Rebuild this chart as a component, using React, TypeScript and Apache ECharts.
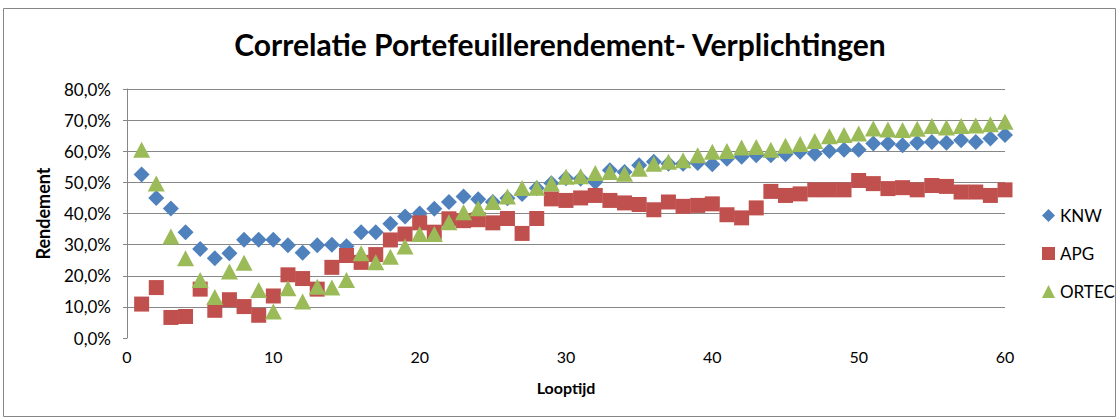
import React, { useEffect, useRef } from "react";
import * as echarts from "echarts";

const titleText = "Correlatie Portefeuillerendement- Verplichtingen";
const xName = "Looptijd";
const yName = "Rendement";
const seriesNames = ["KNW", "APG", "ORTEC"];
const seriesColors = ["#4F81BD", "#C0504D", "#9BBB59"];

const knw = [
  52.5, 45, 41.6, 34, 28.6, 25.6, 27.2, 31.6, 31.6, 31.6, 29.8, 27.4, 29.8, 30, 29.5,
  34, 34, 36.7, 39, 40, 41.5, 43.7, 45.5, 44.6, 43.7, 44.9, 46.3, 48.1, 49.7, 51.3,
  51.2, 50.1, 53.9, 53.3, 55.5, 56.6, 56, 56, 56.2, 55.8, 57.6, 58.2, 58.7, 58.7, 59,
  59.8, 59.2, 60.1, 60.5, 60.5, 62.5, 62.5, 61.9, 62.7, 63, 62.7, 63.5, 63, 64.1, 65.2,
];
const apg = [
  10.9, 16.2, 6.6, 6.9, 15.7, 8.9, 12.3, 10.1, 7.3, 13.5, 20.3, 19.1, 15.7, 22.7, 26.5,
  24.3, 26.8, 31.5, 33.4, 37, 34, 38.3, 37.7, 38, 37, 38.4, 33.6, 38.4, 44.7, 44.2,
  45, 45.8, 44.2, 43.4, 42.9, 41.2, 43.7, 42.3, 42.6, 43.1, 39.6, 38.6, 41.8, 47.1, 45.8,
  46.3, 47.6, 47.6, 47.6, 50.6, 49.6, 48, 48.3, 47.6, 49, 48.7, 46.9, 46.9, 45.8, 47.6,
];
const ortec = [
  60.5, 49.6, 32.6, 25.6, 18.6, 13.2, 21.4, 24.2, 15.4, 8.5, 16, 11.7, 16.5, 16.2, 18.6,
  27.2, 24.3, 26.1, 29.4, 33.4, 33.4, 37.2, 40.4, 41.7, 43.7, 45.5, 48.2, 48.3, 49.6, 51.8,
  52, 53, 53.3, 52.8, 54.4, 56, 56.6, 57.1, 58.7, 59.8, 60.1, 61.2, 61.4, 60.5, 61.8,
  62.3, 63.3, 64.8, 65.2, 65.7, 67.3, 67, 66.8, 67.2, 68.1, 67.6, 68.1, 68.3, 68.7, 69.5,
];
const looptijd = knw.map((_, i) => i + 1);
const symbols = ["diamond", "rect", "triangle"];
const symbolSizes = [[16, 16], [15, 15], [17, 16]];

const FONT = "Lato, 'Liberation Sans', sans-serif";

export default function App() {
  const ref = useRef<HTMLDivElement>(null);
  useEffect(() => {
    if (!ref.current) return;
    const chart = echarts.init(ref.current, undefined, { renderer: "svg" });
    const all = [knw, apg, ortec];
    const gridColors = ["rgba(0,0,0,0)", "#878787", "#878787", "#878787", "#878787", "#878787", "#878787", "#878787", "#878787"];
    chart.setOption({
      animation: false,
      backgroundColor: "#fff",
      textStyle: { fontFamily: FONT },
      title: {
        text: titleText,
        left: "center",
        top: 24,
        textStyle: { fontFamily: FONT, fontSize: 30, fontWeight: "bold", color: "#000" },
      },
      graphic: [
        {
          type: "rect",
          shape: { x: 3.5, y: 8.5, width: 1112, height: 408 },
          style: { fill: "none", stroke: "#868686", lineWidth: 1 },
          silent: true,
        },
      ],
      legend: {
        orient: "vertical",
        left: 1037,
        top: 202,
        itemWidth: 13,
        itemHeight: 13,
        itemGap: 21,
        textStyle: { fontFamily: FONT, fontSize: 17, color: "#000" },
        data: seriesNames.map((n, i) => ({ name: n, icon: symbols[i] })),
      },
      grid: { left: 127, right: 115, top: 89, bottom: 82 },
      xAxis: {
        type: "value",
        min: 0,
        max: 60,
        interval: 10,
        name: xName,
        nameLocation: "middle",
        nameGap: 41,
        nameTextStyle: { fontFamily: FONT, fontSize: 16, fontWeight: "bold", color: "#000" },
        axisLine: { show: false },
        axisTick: { show: false },
        splitLine: { show: false },
        axisLabel: { fontFamily: FONT, fontSize: 16, color: "#000", margin: 10 },
      },
      yAxis: {
        type: "value",
        min: 0,
        max: 80,
        interval: 10,
        name: yName,
        nameLocation: "middle",
        nameGap: 75,
        nameTextStyle: { fontFamily: FONT, fontSize: 18, fontWeight: "bold", color: "#000" },
        axisLine: { show: true, lineStyle: { color: "#878787", width: 1 } },
        axisTick: { show: true, length: 4, lineStyle: { color: "#878787" } },
        splitLine: { show: true, lineStyle: { color: gridColors, width: 1 } },
        axisLabel: {
          fontFamily: FONT,
          fontSize: 17,
          color: "#000",
          margin: 16,
          formatter: (v: number) => v.toFixed(1).replace(".", ",") + "%",
        },
      },
      series: seriesNames.map((name, i) => ({
        name,
        type: "scatter",
        symbol: symbols[i],
        symbolSize: symbolSizes[i],
        itemStyle: { color: seriesColors[i], opacity: 1 },
        data: all[i].map((v, j) => [looptijd[j], v]),
      })),
    });
    return () => chart.dispose();
  }, []);
  return (
    <div
      ref={ref}
      style={{ position: "fixed", left: 0, top: 0, width: 1120, height: 420 }}
    />
  );
}
